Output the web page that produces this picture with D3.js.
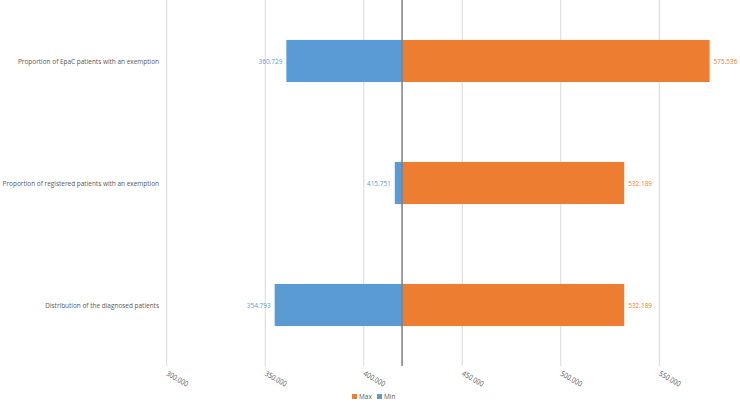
<!DOCTYPE html>
<html><head><meta charset="utf-8">
<script src="https://cdn.jsdelivr.net/npm/d3@7"></script>
<style>body{margin:0;background:#fff}text{font-family:"Open Sans","Liberation Sans",sans-serif}</style>
</head><body>
<svg id="c" width="740" height="404"></svg>
<script>
const categories = ["Proportion of EpaC patients with an exemption","Proportion of registered patients with an exemption","Distribution of the diagnosed patients"];
const minValues = [360729, 415751, 354793];
const maxValues = [575536, 532189, 532189];
const baseValue = 419450;
const tickValues = [300000, 350000, 400000, 450000, 500000, 550000];
const seriesNames = ["Max","Min"];
const colors = {Max:"#ED7D31", Min:"#5B9BD5"};

const svg = d3.select("#c");
const x = d3.scaleLinear().domain([300000, 550000]).range([166.7, 659.3]);
const y = d3.scaleBand().domain(categories).range([0, 366]).paddingInner(0.655).paddingOuter(0.3275);
const fmt = v => d3.format(",")(v).replace(/,/g, ".");
const txt = "#595959";
const squeeze = sel => sel.each(function(){
  const w = this.getComputedTextLength();
  d3.select(this).attr("textLength", w*0.86).attr("lengthAdjust", "spacingAndGlyphs");
});

// gridlines
svg.append("g").selectAll("line").data(tickValues).join("line")
  .attr("x1", d => x(d)).attr("x2", d => x(d)).attr("y1", 0).attr("y2", 366)
  .attr("stroke", "#d9d9d9").attr("stroke-width", 1);

// tick labels
svg.append("g").selectAll("text").data(tickValues).join("text")
  .attr("transform", d => `translate(${x(d)-1},${375}) rotate(30)`)
  .attr("font-size", 7.5).attr("fill", txt).text(d => fmt(d)).call(squeeze);

// min bars
svg.append("g").selectAll("rect").data(categories).join("rect")
  .attr("x", (d,i) => Math.min(x(minValues[i]), x(baseValue)))
  .attr("width", (d,i) => Math.abs(x(baseValue) - x(minValues[i])))
  .attr("y", d => y(d)).attr("height", y.bandwidth()).attr("fill", colors.Min);
// max bars
svg.append("g").selectAll("rect").data(categories).join("rect")
  .attr("x", x(baseValue))
  .attr("width", (d,i) => x(maxValues[i]) - x(baseValue))
  .attr("y", d => y(d)).attr("height", y.bandwidth()).attr("fill", colors.Max);

// base line
svg.append("line").attr("x1", x(baseValue)).attr("x2", x(baseValue)).attr("y1", 0).attr("y2", 366)
  .attr("stroke", "#7f7f7f").attr("stroke-width", 1.5);

// category labels
svg.append("g").selectAll("text").data(categories).join("text")
  .attr("x", 159).attr("y", d => y(d) + y.bandwidth()/2).attr("dy", "0.35em")
  .attr("text-anchor", "end").attr("font-size", 7.5).attr("fill", txt).text(d => d).call(squeeze);

// data labels
svg.append("g").selectAll("text").data(categories).join("text")
  .attr("x", (d,i) => Math.min(x(minValues[i]), x(baseValue)) - 4)
  .attr("y", d => y(d) + y.bandwidth()/2).attr("dy", "0.35em")
  .attr("text-anchor", "end").attr("font-size", 7.5).attr("fill", colors.Min).text((d,i) => fmt(minValues[i])).call(squeeze);
svg.append("g").selectAll("text").data(categories).join("text")
  .attr("x", (d,i) => x(maxValues[i]) + 4)
  .attr("y", d => y(d) + y.bandwidth()/2).attr("dy", "0.35em")
  .attr("text-anchor", "start").attr("font-size", 7.5).attr("fill", colors.Max).text((d,i) => fmt(maxValues[i])).call(squeeze);

// legend
const lg = svg.append("g").attr("transform", "translate(352,398)");
const items = lg.selectAll("g").data(seriesNames).join("g").attr("transform", (d,i) => `translate(${i*25},0)`);
items.append("rect").attr("x", 0).attr("y", -4).attr("width", 5).attr("height", 5).attr("fill", d => colors[d]);
items.append("text").attr("x", 7).attr("y", 1).attr("font-size", 7.5).attr("fill", txt).text(d => d).call(squeeze);
</script>
</body></html>
